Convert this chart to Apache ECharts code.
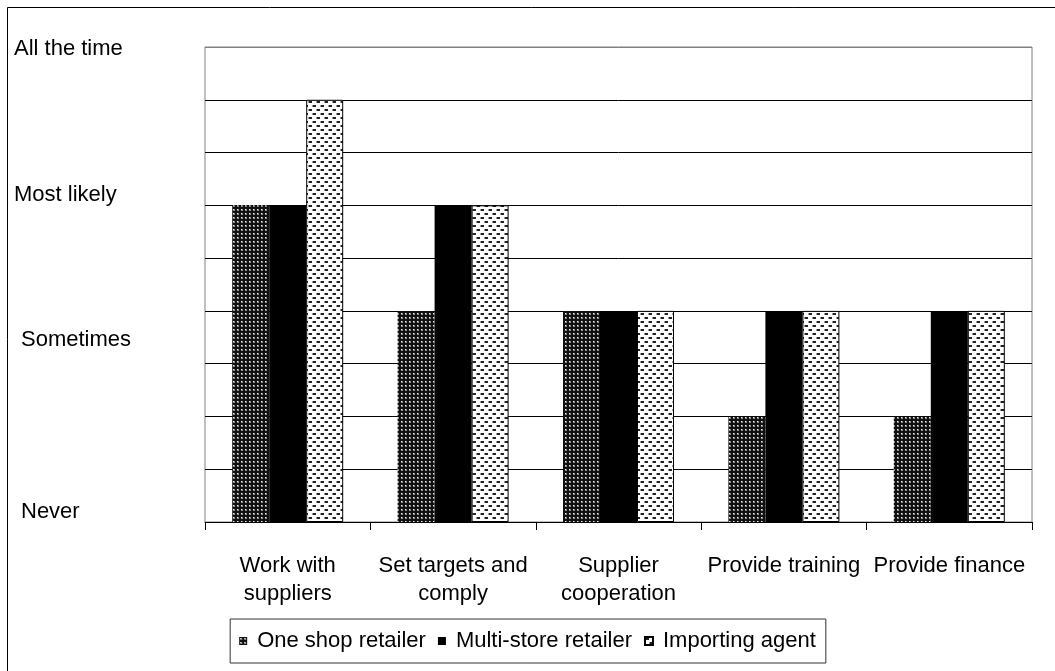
<!DOCTYPE html>
<html>
<head>
<meta charset="utf-8">
<script src="https://cdn.jsdelivr.net/npm/echarts@6/dist/echarts.min.js"></script>
<style>
html,body{margin:0;padding:0;background:#fff;}
#chart{width:1055px;height:671px;}
</style>
</head>
<body>
<div id="chart"></div>
<script>
var categories = ['Work with\nsuppliers', 'Set targets and\ncomply', 'Supplier\ncooperation', 'Provide training', 'Provide finance'];
var seriesNames = ['One shop retailer', 'Multi-store retailer', 'Importing agent'];
var oneShop = [6, 4, 4, 2, 2];
var multiStore = [6, 6, 4, 4, 4];
var importing = [8, 6, 4, 4, 4];
var yTickValues = [9, 6, 3, 0];
var yTickLabels = ['All the time', 'Most likely', 'Sometimes', 'Never'];

function makePattern(w, h, draw) {
  var c = document.createElement('canvas');
  c.width = w; c.height = h;
  var ctx = c.getContext('2d');
  draw(ctx);
  return { image: c, repeat: 'repeat' };
}
var darkPattern = makePattern(4, 4, function (ctx) {
  ctx.fillStyle = '#111'; ctx.fillRect(0, 0, 4, 4);
  ctx.fillStyle = '#8a8a8a'; ctx.fillRect(1, 1, 2, 2);
  ctx.fillStyle = '#eee'; ctx.fillRect(1, 1, 1, 1);
});
var lightPattern = makePattern(8, 8, function (ctx) {
  ctx.fillStyle = '#fff'; ctx.fillRect(0, 0, 8, 8);
  ctx.fillStyle = '#222'; ctx.fillRect(1, 1, 3, 2); ctx.fillRect(5, 5, 3, 2);
  ctx.fillStyle = '#999'; ctx.fillRect(0, 1, 1, 2); ctx.fillRect(4, 5, 1, 2);
});

var labelMap = {};
yTickValues.forEach(function (v, i) { labelMap[v] = yTickLabels[i]; });

var font = "'Liberation Sans', Arial, sans-serif";
var chart = echarts.init(document.getElementById('chart'), null, { renderer: 'canvas' });
var gridColors = [];
for (var i = 0; i < 9; i++) gridColors.push('#000');
gridColors.push('#808080');

chart.setOption({
  animation: false,
  backgroundColor: '#fff',
  textStyle: { fontFamily: font },
  graphic: [{
    type: 'rect', silent: true, z: 100,
    shape: { x: 7.5, y: 7.5, width: 1060, height: 680 },
    style: { fill: 'none', stroke: '#000', lineWidth: 1 }
  }],
  grid: { left: 205, top: 47, right: 23, bottom: 149, show: true, borderColor: '#808080', borderWidth: 1, backgroundColor: 'transparent' },
  legend: {
    data: seriesNames, top: 619, left: 'center', icon: 'rect',
    itemWidth: 8, itemHeight: 8, itemGap: 12,
    borderColor: '#333', borderWidth: 1, padding: [11, 10, 11, 9],
    textStyle: { fontSize: 22, color: '#000', fontFamily: font, padding: [0, 0, 0, 5] }
  },
  xAxis: {
    type: 'category', data: categories,
    axisLine: { show: true, lineStyle: { color: '#000', width: 1 } },
    axisTick: { show: true, length: 8, alignWithLabel: false, lineStyle: { color: '#000' } },
    axisLabel: { interval: 0, margin: 30, fontSize: 22, lineHeight: 28, color: '#000', fontFamily: font },
    splitLine: { show: false }
  },
  yAxis: {
    type: 'value', min: 0, max: 9, interval: 1,
    axisLine: { show: false }, axisTick: { show: false },
    splitLine: { show: true, lineStyle: { color: gridColors, width: 1 } },
    axisLabel: {
      show: true, align: 'left', margin: 191, fontSize: 22, color: '#000', fontFamily: font,
      formatter: function (v) {
        return labelMap[v] !== undefined ? '{s' + v + '|' + labelMap[v] + '}' : '';
      },
      rich: {
        s9: { fontSize: 22, padding: [4, 0, 0, 0] },
        s6: { fontSize: 22, padding: [0, 0, 20, 0] },
        s3: { fontSize: 22, padding: [0, 0, 48, 7] },
        s0: { fontSize: 22, padding: [0, 0, 20, 7] }
      }
    }
  },
  series: [
    { name: seriesNames[0], type: 'bar', data: oneShop, barWidth: 37, barGap: '0%',
      itemStyle: { color: darkPattern, borderColor: '#222', borderWidth: 0 } },
    { name: seriesNames[1], type: 'bar', data: multiStore, barWidth: 37, barGap: '0%',
      itemStyle: { color: '#000' } },
    { name: seriesNames[2], type: 'bar', data: importing, barWidth: 37, barGap: '0%',
      itemStyle: { color: lightPattern, borderColor: '#000', borderWidth: 1 } }
  ]
});
</script>
</body>
</html>
